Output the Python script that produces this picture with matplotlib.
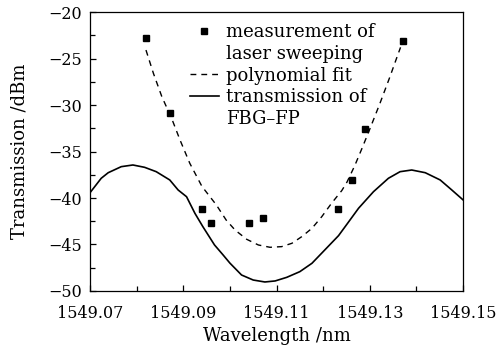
import numpy as np
import matplotlib
matplotlib.use("Agg")
import matplotlib.pyplot as plt
from matplotlib.lines import Line2D

# measurement of laser sweeping (squares)
meas_wl = [1549.0820, 1549.0872, 1549.0940, 1549.0960, 1549.1041, 1549.1071,
           1549.1231, 1549.1261, 1549.1290, 1549.1372]
meas_db = [-22.76, -30.83, -41.20, -42.65, -42.65, -42.20,
           -41.20, -38.06, -32.60, -23.16]

# polynomial fit (dashed)
fit_wl = [1549.0820, 1549.0836, 1549.0854, 1549.0875, 1549.0893, 1549.0914,
          1549.0940, 1549.0971, 1549.0992, 1549.1011, 1549.1036, 1549.1061,
          1549.1086, 1549.1111, 1549.1133, 1549.1154, 1549.1176, 1549.1197,
          1549.1218, 1549.1240, 1549.1251, 1549.1268, 1549.1283, 1549.1300,
          1549.1322, 1549.1343, 1549.1358, 1549.1366]
fit_db = [-24.09, -26.60, -29.10, -31.43, -33.76, -36.27,
          -38.75, -40.75, -42.37, -43.44, -44.44, -45.05,
          -45.30, -45.23, -44.87, -44.16, -43.26, -42.01,
          -40.57, -39.20, -38.30, -36.50, -34.70, -32.60,
          -29.80, -27.00, -24.90, -23.80]

# transmission of FBG-FP (solid)
fbg_wl = [1549.0700, 1549.0724, 1549.0739, 1549.0767, 1549.0792, 1549.0817,
          1549.0842, 1549.0871, 1549.0889, 1549.0907, 1549.0925, 1549.0942,
          1549.0967, 1549.0985, 1549.1000, 1549.1025, 1549.1050, 1549.1075,
          1549.1097, 1549.1122, 1549.1150, 1549.1176, 1549.1200, 1549.1233,
          1549.1252, 1549.1276, 1549.1308, 1549.1340, 1549.1365, 1549.1390,
          1549.1419, 1549.1451, 1549.1476, 1549.1500]
fbg_db = [-39.43, -37.88, -37.28, -36.63, -36.45, -36.70,
          -37.17, -38.06, -39.14, -39.86, -41.65, -43.08,
          -45.05, -46.10, -47.00, -48.28, -48.82, -49.03,
          -48.92, -48.53, -47.92, -47.02, -45.77, -44.05,
          -42.75, -41.10, -39.32, -37.88, -37.17, -36.99,
          -37.28, -38.06, -39.14, -40.20]

x_major = [1549.07, 1549.09, 1549.11, 1549.13, 1549.15]
x_labels = ['1549.07', '1549.09', '1549.11', '1549.13', '1549.15']
x_minor = [1549.08, 1549.10, 1549.12, 1549.14]
y_major = [-50, -45, -40, -35, -30, -25, -20]
y_minor = [-47.5, -42.5, -37.5, -32.5, -27.5, -22.5]

plt.rcParams['font.family'] = ['DejaVu Serif']
plt.rcParams['mathtext.fontset'] = 'dejavuserif'

fig = plt.figure(figsize=(4.96, 3.48), dpi=100)
ax = fig.add_axes([0.1815, 0.1638, 0.752, 0.8017])

pts, = ax.plot(meas_wl, meas_db, 's', color='black', markersize=4.3,
               linestyle='none')
fit, = ax.plot(fit_wl, fit_db, color='black', lw=1.0, dashes=(4.2, 3.6))
trans, = ax.plot(fbg_wl, fbg_db, color='black', lw=1.2)

ax.set_xlim(1549.07, 1549.15)
ax.set_ylim(-50, -20)
ax.set_xticks(x_major)
ax.set_xticklabels(x_labels)
ax.set_xticks(x_minor, minor=True)
ax.set_yticks(y_major)
ax.set_yticks(y_minor, minor=True)
ax.tick_params(which='both', direction='in', labelsize=11.5, top=False, right=False,
               width=0.9)
ax.tick_params(which='major', length=4.5)
ax.tick_params(which='minor', length=3.5)
ax.tick_params(axis='x', pad=10)
ax.tick_params(axis='y', pad=6)
for s in ax.spines.values():
    s.set_linewidth(0.9)

ax.set_xlabel('Wavelength /nm', fontsize=13, labelpad=4)
ax.set_ylabel('Transmission /dBm', fontsize=13, labelpad=14)

blank = Line2D([], [], linestyle='none')
ax.legend([pts, blank, fit, trans, blank],
          ['measurement of', 'laser sweeping', 'polynomial fit',
           'transmission of', 'FBG\u2013FP'],
          loc='upper left', bbox_to_anchor=(0.268, 0.959), frameon=False,
          fontsize=13, handlelength=1.6, handletextpad=0.4,
          labelspacing=0.2, borderpad=0, borderaxespad=0, markerscale=0.85)

fig.savefig('out.png', dpi=100)
